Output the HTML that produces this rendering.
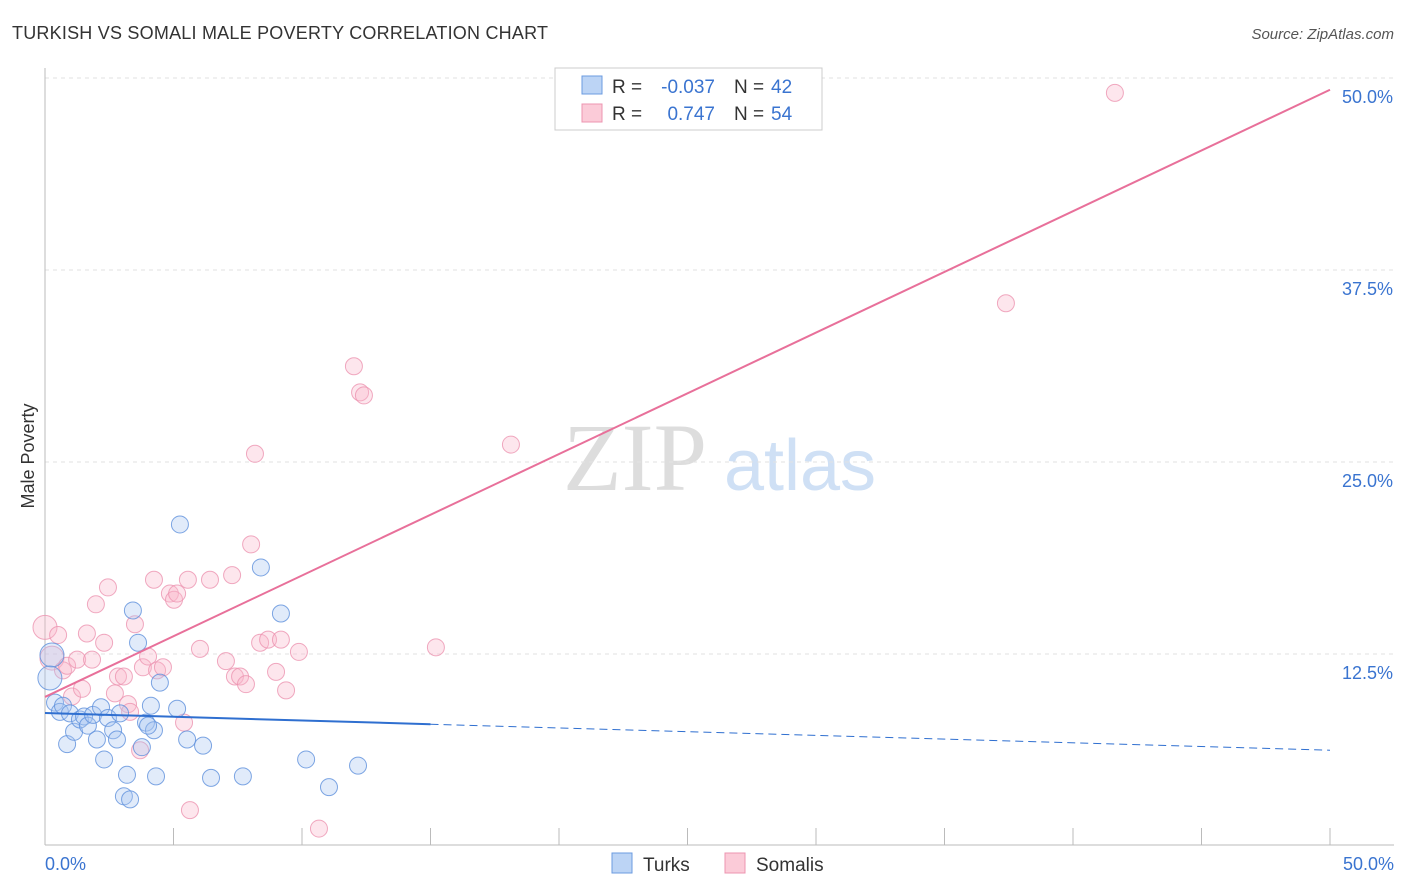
<!DOCTYPE html>
<html><head><meta charset="utf-8"><style>
body{margin:0;background:#fff;font-family:"Liberation Sans",sans-serif;}
svg{display:block}
</style></head><body>
<svg id="c" width="1406" height="892" xmlns="http://www.w3.org/2000/svg">
<text x="12" y="39" font-size="18" fill="#333" textLength="536">TURKISH VS SOMALI MALE POVERTY CORRELATION CHART</text>
<text x="1394" y="39" font-size="15" fill="#555" font-style="italic" text-anchor="end">Source: ZipAtlas.com</text>
<text x="635" y="490" font-size="96" fill="#ddd" font-family="Liberation Serif" text-anchor="middle">ZIP</text>
<text x="800" y="490" font-size="72" fill="#cfe0f5" text-anchor="middle">atlas</text>
<g id="grid"></g><g id="axes"></g><g id="pts"></g><g id="trend"></g>
<text x="34" y="456" font-size="18" fill="#333" text-anchor="middle" transform="rotate(-90 34 456)">Male Poverty</text>
<text x="45" y="870" font-size="18" fill="#3a74d0">0.0%</text>
<text x="1394" y="870" font-size="18" fill="#3a74d0" text-anchor="end">50.0%</text>
<g>
<rect x="555" y="68" width="267" height="62" fill="#fff" stroke="#ccc"/>
<rect x="582" y="76" width="20" height="18" fill="#bcd4f5" stroke="#6b9be0"/>
<rect x="582" y="104" width="20" height="18" fill="#fbcbd8" stroke="#ec94b0"/>
<text x="612" y="93" font-size="19" fill="#333">R =</text>
<text x="715" y="93" font-size="19" fill="#3a74d0" text-anchor="end">-0.037</text>
<text x="734" y="93" font-size="19" fill="#333">N =</text>
<text x="771" y="93" font-size="19" fill="#3a74d0">42</text>
<text x="612" y="120" font-size="19" fill="#333">R =</text>
<text x="715" y="120" font-size="19" fill="#3a74d0" text-anchor="end">0.747</text>
<text x="734" y="120" font-size="19" fill="#333">N =</text>
<text x="771" y="120" font-size="19" fill="#3a74d0">54</text>
</g>
<g>
<rect x="612" y="853" width="20" height="20" fill="#bcd4f5" stroke="#6b9be0"/>
<text x="643" y="871" font-size="19" fill="#333">Turks</text>
<rect x="725" y="853" width="20" height="20" fill="#fbcbd8" stroke="#ec94b0"/>
<text x="756" y="871" font-size="19" fill="#333">Somalis</text>
</g>
</svg>
<script>
const yTicks=[12.5,25,37.5,50];
const yTickLabels=["12.5%","25.0%","37.5%","50.0%"];
const turksX=[0.27,0.19,0.39,0.58,0.70,0.86,0.97,1.13,1.36,1.52,1.67,1.87,2.02,2.18,2.30,2.45,2.65,2.80,2.92,3.07,3.19,3.31,3.42,3.62,3.77,3.93,4.12,4.24,4.32,4.47,5.14,5.25,5.53,6.15,6.46,7.70,8.40,9.18,10.16,11.05,12.18,4.01];
const turksY=[12.5,11.0,9.4,8.8,9.2,6.7,8.7,7.5,8.3,8.5,7.9,8.6,7.0,9.1,5.7,8.4,7.6,7.0,8.7,3.3,4.7,3.1,15.4,13.3,6.5,8.1,9.2,7.6,4.6,10.7,9.0,21.0,7.0,6.6,4.5,4.6,18.2,15.2,5.7,3.9,5.3,7.9];
const somX=[0,0.27,0.51,0.70,0.86,1.05,1.25,1.44,1.63,1.83,1.98,2.30,2.45,2.72,2.84,3.07,3.23,3.50,3.70,3.81,4.01,4.24,4.36,4.59,4.86,5.02,5.14,5.41,5.56,5.64,6.03,6.42,7.04,7.28,7.39,7.59,7.82,8.02,8.17,8.37,8.68,8.99,9.18,9.38,9.88,10.66,12.02,12.26,12.41,15.21,18.13,37.39,41.63,3.31];
const somY=[14.3,12.3,13.8,11.5,11.8,9.8,12.2,10.3,13.9,12.2,15.8,13.3,16.9,10.0,11.1,11.1,9.3,14.5,6.3,11.7,12.4,17.4,11.5,11.7,16.5,16.1,16.5,8.1,17.4,2.4,12.9,17.4,12.1,17.7,11.1,11.1,10.6,19.7,25.6,13.3,13.5,11.4,13.5,10.2,12.7,1.2,31.3,29.6,29.4,13.0,26.2,35.4,49.1,8.8];
const turksTrend=[8.72,6.3];
const somTrend=[9.77,49.3];
const NS="http://www.w3.org/2000/svg";
const X=v=>45+v*25.7, Y=v=>847-v*15.36;
function mk(t,a,p){const e=document.createElementNS(NS,t);for(const k in a)e.setAttribute(k,a[k]);document.getElementById(p).appendChild(e);return e;}
yTicks.forEach((t,i)=>{
 const l=mk('line',{x1:45,x2:1394,y1:Y(t)-1,y2:Y(t)-1,stroke:'#e2e2e2','stroke-dasharray':'4,4'},'grid');
 
 
 const tx=mk('text',{x:1393,y:Y(t)+24,'font-size':18,fill:'#3a74d0','text-anchor':'end'},'grid');
 tx.textContent=yTickLabels[i];
 
 
});
let a=mk('line',{x1:45,x2:45,y1:68,y2:845,stroke:'#bbb'},'axes');


a=mk('line',{x1:45,x2:1394,y1:845,y2:845,stroke:'#bbb'},'axes');


for(let i=0;i<=10;i++){const t=mk('line',{x1:X(i*5),x2:X(i*5),y1:828,y2:845,stroke:'#bbb'},'axes');
 
 }
function pts(xs,ys,fill,stroke,name){xs.forEach((x,i)=>{
 const big=(x<0.3&&i<2)?12:8.5;
 const c=mk('circle',{cx:X(x),cy:Y(ys[i]),r:big,fill:fill,'fill-opacity':0.35,stroke:stroke,'stroke-opacity':0.8,'stroke-width':1},'pts');
 
 });}
pts(somX,somY,'#f9b8cb','#ec94b0','somali-point');
pts(turksX,turksY,'#a8c6f0','#5e90dc','turks-point');
const tb=v=>turksTrend[0]+(turksTrend[1]-turksTrend[0])*v/50;
let l=mk('line',{x1:X(0),y1:Y(tb(0)),x2:X(15),y2:Y(tb(15)),stroke:'#2f6fd0','stroke-width':2},'trend');


l=mk('line',{x1:X(15),y1:Y(tb(15)),x2:X(50),y2:Y(tb(50)),stroke:'#2f6fd0','stroke-width':1,'stroke-dasharray':'8,5'},'trend');


l=mk('line',{x1:X(0),y1:Y(somTrend[0]),x2:X(50),y2:Y(somTrend[1]),stroke:'#e8709a','stroke-width':2},'trend');


</script>
</body></html>
